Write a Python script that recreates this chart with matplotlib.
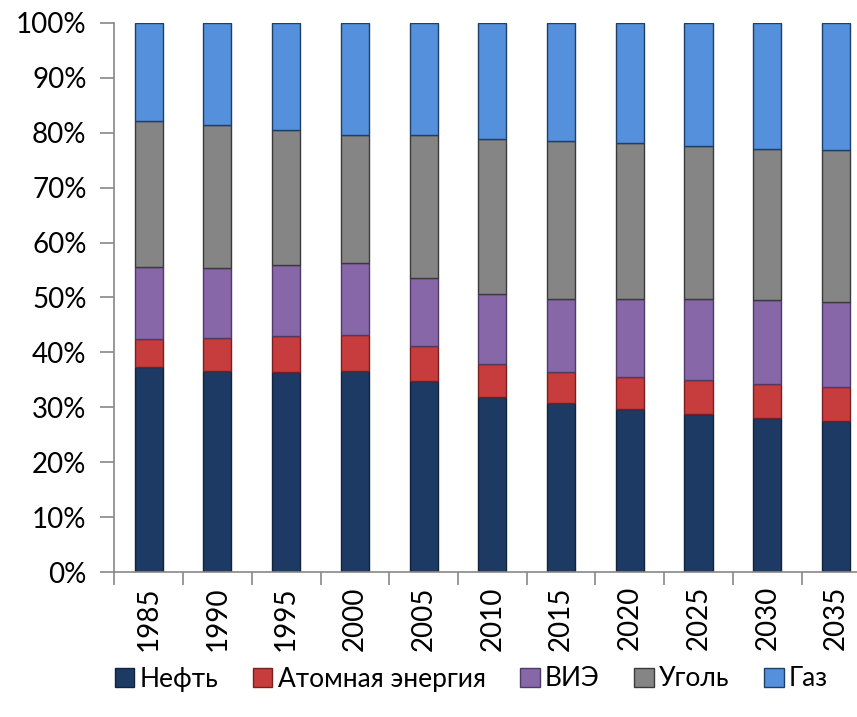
import numpy as np
import matplotlib
matplotlib.use('Agg')
import matplotlib.pyplot as plt
from matplotlib.ticker import PercentFormatter

plt.rcParams['font.family'] = ['Lato', 'DejaVu Sans']

# data (shares in %)
years = ['1985', '1990', '1995', '2000', '2005', '2010', '2015', '2020', '2025', '2030', '2035']
oil = [37.3, 36.6, 36.4, 36.6, 34.8, 31.9, 30.8, 29.7, 28.8, 28.1, 27.5]
nuclear = [5.2, 6.0, 6.6, 6.6, 6.3, 6.0, 5.6, 5.9, 6.1, 6.1, 6.2]
renew = [13.1, 12.8, 13.0, 13.1, 12.5, 12.8, 13.4, 14.2, 14.8, 15.3, 15.4]
coal = [26.5, 25.9, 24.5, 23.2, 25.9, 28.2, 28.6, 28.3, 27.8, 27.6, 27.8]
gas = [17.9, 18.7, 19.5, 20.5, 20.5, 21.1, 21.6, 21.9, 22.5, 22.9, 23.1]

labels = ['Нефть', 'Атомная энергия', 'ВИЭ', 'Уголь', 'Газ']
colors = ['#1d3a64', '#c73c3c', '#8767a8', '#858585', '#5490db']
edges = ['#10223d', '#7a1f1f', '#4e3a66', '#3a3a3a', '#1e3f68']

fig = plt.figure(figsize=(8.57, 7.17), dpi=100)
ax = fig.add_axes([114.3 / 857, (717 - 572.3) / 717, 756.1 / 857, 549.6 / 717])

x = np.arange(len(years))
series = [oil, nuclear, renew, coal, gas]
bottom = np.zeros(len(years))
for vals, c, ec, lab in zip(series, colors, edges, labels):
    vals = np.array(vals)
    ax.bar(x, vals, 0.41, bottom=bottom, color=c, edgecolor=ec, linewidth=1.0, label=lab)
    bottom += vals

ax.set_xlim(-0.5, len(years) - 0.5)
ax.set_ylim(0, 100)
ax.set_yticks(np.arange(0, 101, 10))
ax.yaxis.set_major_formatter(PercentFormatter(decimals=0))
ax.set_xticks(np.arange(-0.5, len(years), 1), minor=False)
ax.set_xticklabels([])
ax.set_xticks(x, minor=True)
ax.set_xticklabels(years, minor=True, rotation=90, fontsize=20)
ax.tick_params(axis='x', which='minor', length=0, pad=10)
ax.tick_params(axis='x', which='major', length=9, color='#888888', width=1.2)
ax.tick_params(axis='y', length=10, color='#888888', width=1.2, labelsize=20, pad=10)

for s in ['top', 'right']:
    ax.spines[s].set_visible(False)
for s in ['left', 'bottom']:
    ax.spines[s].set_color('#888888')
    ax.spines[s].set_linewidth(1.2)

fig.legend(loc='center', bbox_to_anchor=(0.55, 1 - 679 / 717), ncol=5, frameon=False,
           fontsize=19, handlelength=0.75, handleheight=0.75, handletextpad=0.2,
           columnspacing=1.3)

fig.savefig('out.png', dpi=100)
